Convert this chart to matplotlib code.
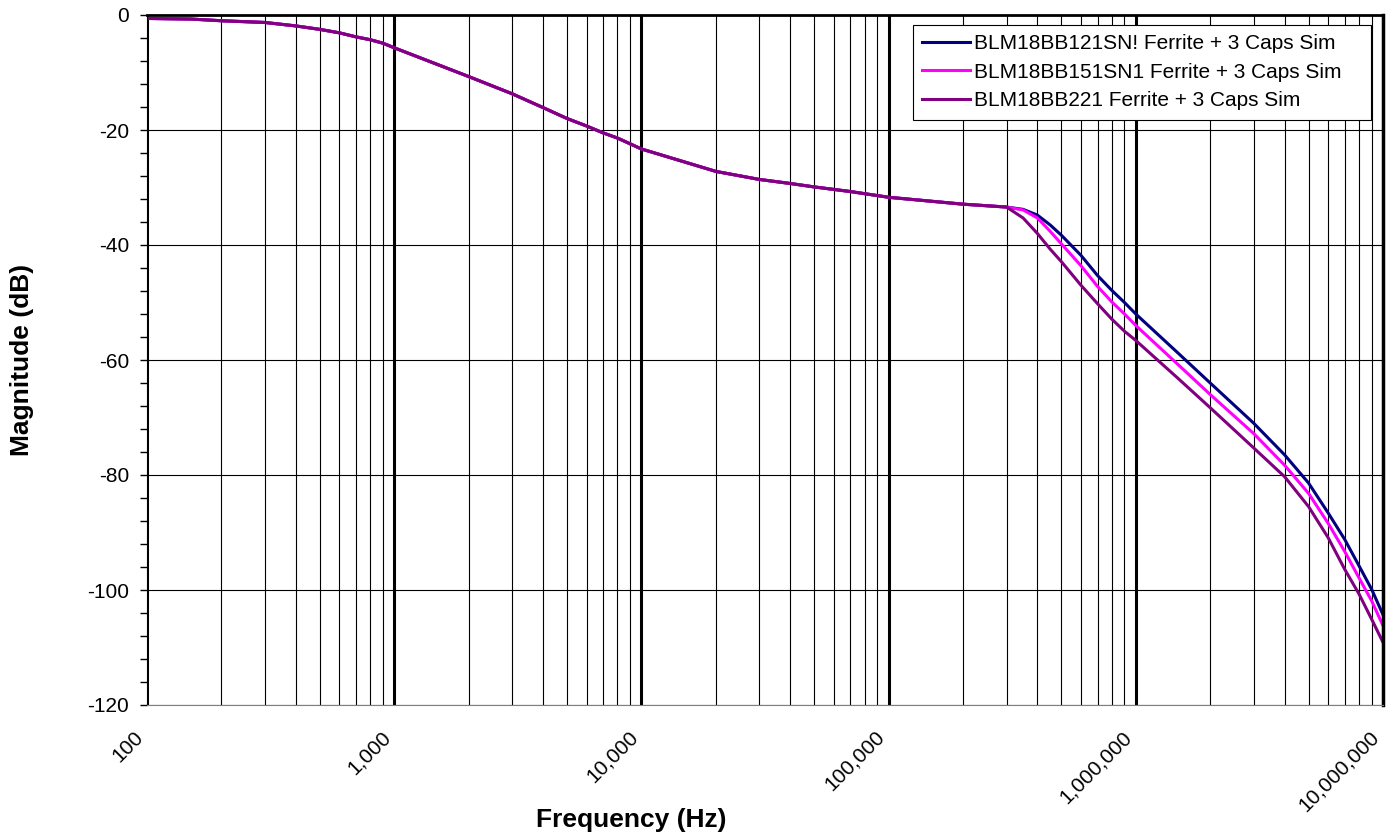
import matplotlib
matplotlib.use("Agg")
import matplotlib.pyplot as plt
from matplotlib.ticker import FixedLocator, NullFormatter

plt.rcParams['font.family'] = ['Liberation Sans', 'DejaVu Sans']

# frequency points (Hz)
freq = [100, 150, 200, 300, 400, 500, 600, 700, 800, 900,
        1e3, 2e3, 3e3, 4e3, 5e3, 6e3, 7e3, 8e3, 9e3,
        1e4, 2e4, 3e4, 4e4, 5e4, 7e4,
        1e5, 2e5, 3e5, 3.5e5, 4e5, 4.5e5, 5e5, 6e5, 7e5, 8e5, 9e5,
        1e6, 1.5e6, 2e6, 3e6, 4e6, 5e6, 6e6, 7e6, 8e6, 9e6, 1e7]

# shared part up to 300 kHz
common = [-0.6, -0.7, -1.0, -1.3, -1.9, -2.5, -3.1, -3.8, -4.3, -4.9,
          -5.7, -10.7, -13.7, -16.1, -18.0, -19.3, -20.5, -21.4, -22.4,
          -23.3, -27.2, -28.6, -29.3, -29.9, -30.7,
          -31.7, -32.9, -33.4]

blue_hi = [-33.8, -34.8, -36.5, -38.3, -41.8, -45.3, -47.9, -50.0,
           -52.0, -59.0, -64.0, -71.0, -76.5, -81.4, -86.6, -91.2, -95.8, -99.9, -104.3]
pink_hi = [-33.9, -35.3, -37.6, -39.8, -43.6, -47.2, -49.9, -52.0,
           -54.0, -61.0, -66.0, -72.8, -78.3, -83.2, -88.4, -93.3, -97.9, -101.9, -106.2]
purple_hi = [-35.3, -38.0, -40.7, -42.9, -47.0, -50.2, -52.9, -55.0,
             -56.6, -63.4, -68.3, -75.3, -80.3, -85.5, -90.9, -96.4, -100.7, -105.1, -109.1]

labels = ["BLM18BB121SN! Ferrite + 3 Caps Sim",
          "BLM18BB151SN1 Ferrite + 3 Caps Sim",
          "BLM18BB221 Ferrite + 3 Caps Sim"]
colors = ['#000080', '#FF00FF', '#800080']

x_ticks = [100, 1000, 10000, 100000, 1000000, 10000000]
y_ticks = [0, -20, -40, -60, -80, -100, -120]

fig = plt.figure(figsize=(13.92, 8.35), dpi=100)
ax = fig.add_axes([147 / 1392, 1 - 705 / 835, 1236 / 1392, 690 / 835])

for hi, lab, c in zip([blue_hi, pink_hi, purple_hi], labels, colors):
    ax.plot(freq, common + hi, color=c, lw=2.2, label=lab)

ax.set_xscale('log')
ax.set_xlim(100, 1e7)
ax.set_ylim(-120, 0)

ax.xaxis.set_major_locator(FixedLocator(x_ticks))
ax.set_xticklabels(['{:,}'.format(v) for v in x_ticks], rotation=45,
                   ha='right', va='top', fontsize=15)
minor = [m * d for d in x_ticks[:-1] for m in range(2, 10)]
ax.xaxis.set_minor_locator(FixedLocator(minor))
ax.xaxis.set_minor_formatter(NullFormatter())
ax.tick_params(axis='x', which='both', length=0, pad=16)

ax.set_yticks(y_ticks)
ax.set_yticklabels([str(v) for v in y_ticks], fontsize=15)
ax.yaxis.set_minor_locator(FixedLocator(range(-120, 1, 4)))
ax.tick_params(axis='y', which='both', direction='out', length=5,
               width=1, pad=8, color='black')

ax.set_axisbelow(True)
ax.grid(True, which='major', axis='x', color='black', lw=2.2)
ax.grid(True, which='minor', axis='x', color='black', lw=0.8)
ax.grid(True, which='major', axis='y', color='black', lw=0.8)

ax.spines['bottom'].set_color('#808080')
ax.spines['left'].set_color('black')
ax.spines['top'].set_color('black')
ax.spines['top'].set_linewidth(2)
ax.spines['right'].set_color('black')
ax.spines['right'].set_linewidth(2.5)

ax.set_xlabel("Frequency (Hz)", fontsize=19, fontweight='bold')
ax.xaxis.set_label_coords((631 - 147) / 1236, -0.149)
ax.set_ylabel("Magnitude (dB)", fontsize=19, fontweight='bold')
ax.yaxis.set_label_coords(-0.0914, 0.5)

leg = ax.legend(loc='upper left', bbox_to_anchor=(0.6197, 0.9855, 0.3706, 0.0),
                mode='expand', borderaxespad=0, fontsize=15, frameon=True,
                fancybox=False, edgecolor='black', framealpha=1,
                handlelength=2.3, handletextpad=0.2, labelspacing=0.45,
                borderpad=0.45)
leg.get_frame().set_linewidth(0.8)

fig.savefig("out.png", dpi=100)
